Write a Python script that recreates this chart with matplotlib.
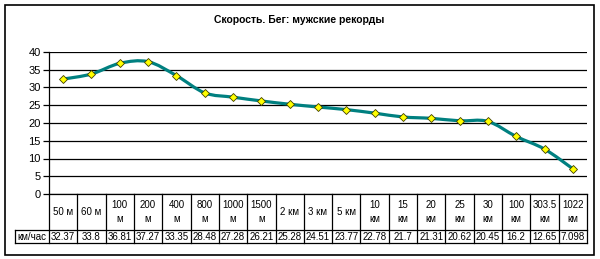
import numpy as np
import matplotlib
matplotlib.use("Agg")
import matplotlib.pyplot as plt
from matplotlib.path import Path
from matplotlib.patches import PathPatch, Rectangle

plt.rcParams['font.family'] = ['Liberation Sans', 'DejaVu Sans']

# data
distances = ["50 м", "60 м", "100\nм", "200\nм", "400\nм", "800\nм", "1000\nм", "1500\nм",
             "2 км", "3 км", "5 км", "10\nкм", "15\nкм", "20\nкм", "25\nкм", "30\nкм",
             "100\nкм", "303.5\nкм", "1022\nкм"]
speed_labels = ["32.37", "33.8", "36.81", "37.27", "33.35", "28.48", "27.28", "26.21", "25.28",
                "24.51", "23.77", "22.78", "21.7", "21.31", "20.62", "20.45", "16.2", "12.65", "7.098"]
speeds = [float(s) for s in speed_labels]
row_name = "км/час"
title = "Скорость. Бег: мужские рекорды"

W, H = 600, 259
fig = plt.figure(figsize=(W / 100, H / 100), dpi=100)

# plot area in pixels
px_l, px_r, px_t, px_b = 49, 587, 52, 194
ax = fig.add_axes([px_l / W, 1 - px_b / H, (px_r - px_l) / W, (px_b - px_t) / H])

n = len(speeds)
xs = np.arange(n)
ax.set_xlim(-0.5, n - 0.5)
ax.set_ylim(0, 40)
ax.set_yticks(range(0, 41, 5))
ax.set_xticks([])
ax.yaxis.grid(True, color="black", linewidth=0.9)
ax.set_axisbelow(True)
for s in ["top", "right", "bottom"]:
    ax.spines[s].set_visible(False)
ax.spines["left"].set_linewidth(0.9)
ax.tick_params(axis="y", direction="out", length=4, width=0.9, labelsize=8, pad=2)

# smoothed line (excel-like bezier through the points)
pts = np.column_stack([xs, speeds])
verts = [tuple(pts[0])]
codes = [Path.MOVETO]
for i in range(n - 1):
    p0 = pts[max(i - 1, 0)]
    p1 = pts[i]
    p2 = pts[i + 1]
    p3 = pts[min(i + 2, n - 1)]
    c1 = p1 + (p2 - p0) / 6
    c2 = p2 - (p3 - p1) / 6
    verts += [tuple(c1), tuple(c2), tuple(p2)]
    codes += [Path.CURVE4] * 3
ax.add_patch(PathPatch(Path(verts, codes), facecolor="none", edgecolor="#008080",
                       linewidth=2.3, zorder=3, capstyle="round", joinstyle="round"))
ax.plot(xs, speeds, linestyle="none", marker="D", markersize=3.6,
        markerfacecolor="#FFFF00", markeredgecolor="#404000", markeredgewidth=0.6, zorder=4)

# data table below the axis
span = px_b - px_t
y_mid = -(230 - px_b) / span
y_bot = -(243 - px_b) / span
x_lab = -0.5 + (15 - px_l) / (px_r - px_l) * n
tr = ax.get_xaxis_transform()
lk = dict(color="black", linewidth=0.9, clip_on=False, transform=tr)
ax.plot([-0.5, n - 0.5], [0, 0], **lk)
ax.plot([x_lab, n - 0.5], [y_mid, y_mid], **lk)
ax.plot([x_lab, n - 0.5], [y_bot, y_bot], **lk)
for i in range(n + 1):
    ax.plot([i - 0.5, i - 0.5], [0, y_bot], **lk)
ax.plot([x_lab, x_lab], [y_mid, y_bot], **lk)

for i in range(n):
    ax.text(i, y_mid / 2, distances[i], transform=tr, ha="center", va="center",
            fontsize=7, linespacing=1.5, clip_on=False)
    ax.text(i, (y_mid + y_bot) / 2, speed_labels[i], transform=tr, ha="center",
            va="center", fontsize=7, clip_on=False)
ax.text((x_lab - 0.5) / 2, (y_mid + y_bot) / 2, row_name, transform=tr, ha="center",
        va="center", fontsize=7, clip_on=False)

fig.text(299 / W, 1 - 20 / H, title, ha="center", va="center", fontsize=7.5,
         fontweight="bold")

# chart border
fig.patches.append(Rectangle((5 / W, 1 - 255 / H), 589 / W, 250 / H, transform=fig.transFigure,
                             fill=False, edgecolor="black", linewidth=1.2))

fig.savefig("out.png", dpi=100)
